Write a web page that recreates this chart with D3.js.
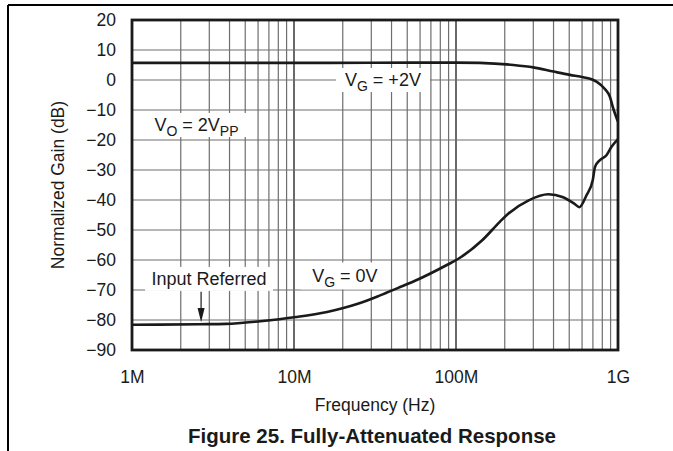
<!DOCTYPE html>
<html>
<head>
<meta charset="utf-8">
<script src="https://cdn.jsdelivr.net/npm/d3@7"></script>
<style>
body { margin: 0; background: #fff; }
svg text { font-family: "Liberation Sans", Arial, Helvetica, sans-serif; fill: #1a1a1a; }
</style>
</head>
<body>
<div id="vis"></div>
<script>
// axis ticks
var freqTicks = [1e6, 1e7, 1e8, 1e9];
var freqLabels = ["1M", "10M", "100M", "1G"];
var gainTicks = [20, 10, 0, -10, -20, -30, -40, -50, -60, -70, -80, -90];

// V_G = +2V curve (freq in Hz, gain in dB)
var vg2Freq = [1e6, 3e6, 1e7, 3e7, 1e8, 1.4e8, 2.26e8, 3e8, 4e8, 5.05e8, 6.1e8, 7.04e8, 7.4e8, 8.3e8, 8.9e8, 9.35e8, 1e9];
var vg2Gain = [5.7, 5.7, 5.7, 5.75, 5.8, 5.7, 5.0, 4.2, 2.8, 1.7, 0.9, 0.0, -0.6, -3.0, -5.5, -9.5, -13.9];

// V_G = 0V curve
var vg0Freq = [1e6, 2.6e6, 3.8e6, 6.2e6, 1.03e7, 1.6e7, 2.45e7, 3.4e7, 4.4e7, 5.5e7, 8.9e7, 1.04e8, 1.44e8, 1.87e8, 2.1e8, 2.81e8, 3.72e8, 4.54e8, 5.37e8, 5.78e8, 6.38e8, 6.99e8, 7.21e8, 7.74e8, 8.51e8, 9.14e8, 1e9];
var vg0Gain = [-81.6, -81.4, -81.3, -80.4, -79, -77.3, -74.7, -71.8, -69.3, -67.1, -61.5, -59.5, -53.6, -47.2, -44.6, -40.1, -38.1, -39, -41.2, -42.4, -38.5, -33.3, -29, -26.7, -25, -22.2, -19.7];

var W = 673, H = 451;
var margin = {top: 20, left: 132, right: 55, bottom: 101};
var width = W - margin.left - margin.right;
var height = H - margin.top - margin.bottom;

var svg = d3.select("#vis").append("svg")
    .attr("width", W)
    .attr("height", H);

// page border lines
svg.append("line").attr("x1", 8).attr("y1", 5).attr("x2", W).attr("y2", 5)
    .attr("stroke", "#000").attr("stroke-width", 2);
svg.append("line").attr("x1", 8).attr("y1", 5).attr("x2", 8).attr("y2", H)
    .attr("stroke", "#000").attr("stroke-width", 2);

var g = svg.append("g")
    .attr("transform", "translate(" + margin.left + "," + margin.top + ")");

var xScale = d3.scaleLog().domain([1e6, 1e9]).range([0, width]);
var yScale = d3.scaleLinear().domain([-90, 20]).range([height, 0]);

// grid
var minor = xScale.ticks();
g.selectAll(".vgrid").data(minor).enter().append("line")
    .attr("x1", function(d) { return xScale(d); })
    .attr("x2", function(d) { return xScale(d); })
    .attr("y1", 0).attr("y2", height)
    .attr("stroke", function(d) { return freqTicks.indexOf(d) >= 0 ? "#444" : "#6e6e6e"; })
    .attr("stroke-width", function(d) { return freqTicks.indexOf(d) >= 0 ? 1.6 : 1.2; });

g.selectAll(".hgrid").data(gainTicks).enter().append("line")
    .attr("x1", 0).attr("x2", width)
    .attr("y1", function(d) { return yScale(d); })
    .attr("y2", function(d) { return yScale(d); })
    .attr("stroke", "#6e6e6e").attr("stroke-width", 1.2);

// axes (labels only)
var xAxis = d3.axisBottom(xScale)
    .tickValues(freqTicks)
    .tickFormat(function(d, i) { return freqLabels[i]; })
    .tickSize(0).tickPadding(21);
var xa = g.append("g").attr("transform", "translate(0," + height + ")").call(xAxis);
xa.select(".domain").remove();
xa.selectAll("text").attr("font-size", 17.5).attr("font-family", null);

var yAxis = d3.axisLeft(yScale)
    .tickValues(gainTicks)
    .tickFormat(function(d) { return d < 0 ? "\u2212" + Math.abs(d) : d; })
    .tickSize(0).tickPadding(16);
var ya = g.append("g").call(yAxis);
ya.select(".domain").remove();
ya.selectAll("text").attr("font-size", 17.5).attr("font-family", null);

svg.append("text")
    .attr("x", margin.left + width / 2).attr("y", 411)
    .attr("text-anchor", "middle").attr("font-size", 17.5)
    .text("Frequency (Hz)");

svg.append("text")
    .attr("transform", "translate(64," + (margin.top + height / 2) + ") rotate(-90)")
    .attr("text-anchor", "middle").attr("font-size", 17.5)
    .text("Normalized Gain (dB)");

svg.append("text")
    .attr("x", 372).attr("y", 443)
    .attr("text-anchor", "middle").attr("font-size", 20.5).attr("font-weight", "bold")
    .text("Figure 25. Fully-Attenuated Response");

// annotation labels with white boxes
function label(f, gain, parts, boxW, boxH) {
    var cx = xScale(f), cy = yScale(gain);
    g.append("rect")
        .attr("x", cx - boxW / 2).attr("y", cy - boxH / 2)
        .attr("width", boxW).attr("height", boxH)
        .attr("fill", "#fff");
    var t = g.append("text")
        .attr("x", cx).attr("y", cy + 6)
        .attr("text-anchor", "middle").attr("font-size", 18);
    parts.forEach(function(p) {
        var s = t.append("tspan").text(p[0]);
        if (p[1] == "sub") s.attr("font-size", 14).attr("dy", 5);
        if (p[1] == "up") s.attr("dy", -5);
    });
}

label(3.54e7, 0, [["V"], ["G", "sub"], [" = +2V", "up"]], 94, 24);
label(2.06e7, -65.3, [["V"], ["G", "sub"], [" = 0V", "up"]], 88, 27);
label(2.99e6, -66.3, [["Input Referred"]], 128, 24);
label(2.5e6, -15, [["V"], ["O", "sub"], [" = 2V", "up"], ["PP", "sub"]], 110, 24);

// arrow for Input Referred
var ax = xScale(2.67e6);
g.append("line")
    .attr("x1", ax).attr("x2", ax)
    .attr("y1", yScale(-70.6)).attr("y2", yScale(-76))
    .attr("stroke", "#1a1a1a").attr("stroke-width", 1.2);
g.append("path")
    .attr("d", "M" + (ax - 3.5) + "," + yScale(-76) + "L" + (ax + 3.5) + "," + yScale(-76) + "L" + ax + "," + yScale(-80.7) + "Z")
    .attr("fill", "#1a1a1a");

// curves
var line = d3.line()
    .x(function(d) { return xScale(d[0]); })
    .y(function(d) { return yScale(d[1]); })
    .curve(d3.curveMonotoneX);

g.append("path")
    .datum(vg2Freq.map(function(f, i) { return [f, vg2Gain[i]]; }))
    .attr("d", line)
    .attr("fill", "none").attr("stroke", "#1a1a1a").attr("stroke-width", 2.6);

g.append("path")
    .datum(vg0Freq.map(function(f, i) { return [f, vg0Gain[i]]; }))
    .attr("d", line)
    .attr("fill", "none").attr("stroke", "#1a1a1a").attr("stroke-width", 2.6);

// plot frame
g.append("rect")
    .attr("x", 0).attr("y", 0).attr("width", width).attr("height", height)
    .attr("fill", "none").attr("stroke", "#1a1a1a").attr("stroke-width", 2.8);
</script>
</body>
</html>
